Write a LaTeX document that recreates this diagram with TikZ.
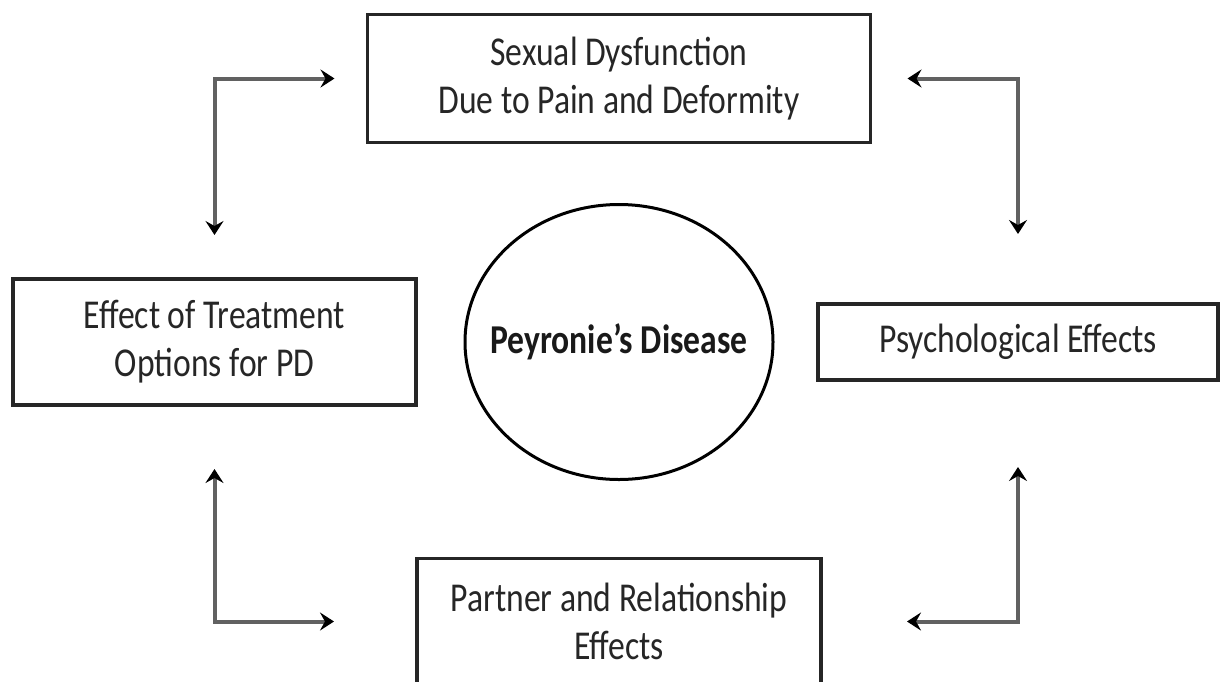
\documentclass[tikz,border=0pt]{standalone}
\usepackage{fontspec}
\setmainfont{Carlito}[FakeStretch=0.82]
\usepackage{tikz}
\usetikzlibrary{shapes.geometric,arrows.meta,positioning}
\tikzset{
  effect/.style={rectangle, draw=black!85, line width=3.5pt, fill=white, align=center,
                 inner sep=4pt, outer sep=0pt, text=black!85},
  loop/.style={{Stealth[length=14pt,width=18pt,inset=5pt,color=black]}-{Stealth[length=14pt,width=18pt,inset=5pt,color=black]},
               line width=4pt, draw=black!62}
}

\begin{document}
\begin{tikzpicture}[
  x=1pt, y=1pt,
  font=\fontsize{41}{48}\selectfont,
  core/.style={ellipse, draw=black, line width=3pt, minimum width=308pt, minimum height=275pt,
               inner sep=0pt, outer sep=0pt, font=\fontsize{41}{48}\selectfont\bfseries, text=black!90}
]
\useasboundingbox (0,0) rectangle (1221,-681);
\clip (0,0) rectangle (1221,-681);
% ---- centre ----
\node[core] (pd) at (619,-342) {\makebox[0pt]{Peyronie’s Disease}};
% ---- four effects ----
\node[effect, minimum width=503pt, minimum height=128pt, above=62pt of pd] (sdys) {Sexual Dysfunction\\Due to Pain and Deformity};
\node[effect, minimum width=403pt, minimum height=126pt, left=49pt of pd] (treat) {Effect of Treatment\\Options for PD};
\node[effect, minimum width=400pt, minimum height=76pt, right=45pt of pd] (psych) {Psychological Effects};
\node[effect, minimum width=404pt, minimum height=126pt, below=79pt of pd] (partner) {Partner and Relationship\\Effects};
% ---- elbow arrows ----
\draw[loop] ([xshift=-33pt]sdys.west) -| ([yshift=44pt]treat.north);
\draw[loop] ([xshift=37pt]sdys.east) -| ([yshift=70pt]psych.north);
\draw[loop] ([yshift=-64pt]treat.south) |- ([xshift=-83pt]partner.west);
\draw[loop] ([yshift=-87pt]psych.south) |- ([xshift=86pt]partner.east);
\end{tikzpicture}
\end{document}
